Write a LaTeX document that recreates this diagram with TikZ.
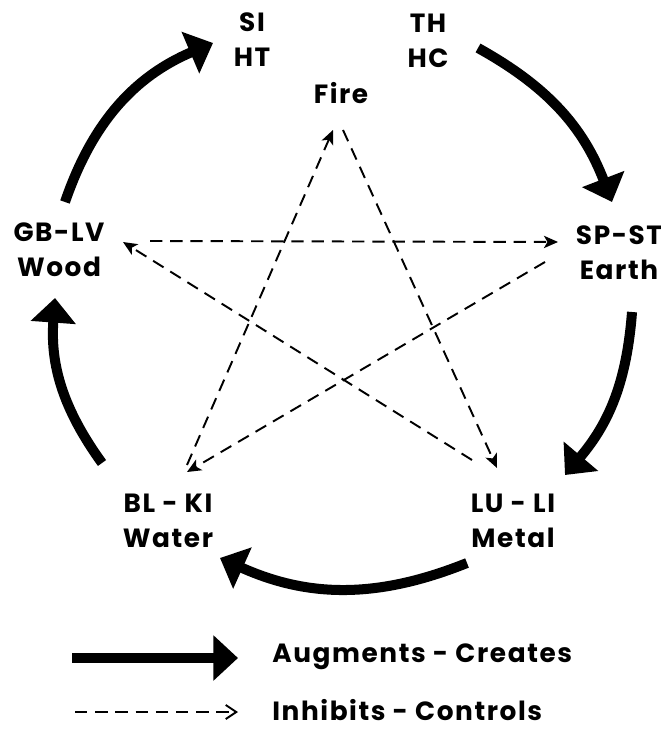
\documentclass[tikz,border=0pt]{standalone}
\usepackage{fontspec}
\setmainfont{Poppins}[LetterSpace=6]
\usetikzlibrary{arrows.meta,positioning}

\begin{document}
\begin{tikzpicture}[
    x=0.02cm, y=-0.02cm,
    every node/.style={font=\fontsize{15}{20}\selectfont\bfseries},
    element/.style={
        align=center,
        anchor=center,
        inner sep=0pt,
    },
    legtext/.style={
        anchor=west,
        inner sep=0pt,
    },
    augments/.style={
        line width=5.7pt,
        -{Triangle[width=25pt,length=14pt]},
    },
    inhibits/.style={
        line width=1.1pt,
        dash pattern=on 7pt off 4.5pt,
        -{Stealth[length=8pt,width=7pt,inset=2pt]},
    },
]

% Page frame
\useasboundingbox (0,0) rectangle (661,732);

% --- Elements (organ pairs) ---
\node[element] (fireA) at (252,40) {SI\\HT};
\node[element] (fireB) at (428,41) {TH\\HC};
\node[element] (fire)  at (341,93) {Fire};
\node[element] (wood)  at (59,250) {GB-LV\\Wood};
\node[element] (earth) at (619,253) {SP-ST\\Earth};
\node[element] (water) at (168,521) {BL - KI\\Water};
\node[element] (metal) at (513,521) {LU - LI\\Metal};

% --- End points of the cycles ---
\coordinate (wood-up)    at (65,202);
\coordinate (fireA-in)   at (213,43);
\coordinate (fireB-out)  at (478,48);
\coordinate (earth-in)   at (612,202);
\coordinate (earth-dn)   at (632,312);
\coordinate (metal-in)   at (565,475);
\coordinate (metal-dn)   at (467,563);
\coordinate (water-in)   at (220,558);
\coordinate (water-up)   at (102,463);
\coordinate (wood-in)    at (55,298);

\coordinate (wood-e)     at (150,241);
\coordinate (earth-w)    at (558,242);
\coordinate (earth-sw)   at (545,262);
\coordinate (water-ne)   at (187,472);
\coordinate (water-n)    at (187,465);
\coordinate (fire-sw)    at (333,130);
\coordinate (fire-se)    at (343,130);
\coordinate (metal-n)    at (497,468);
\coordinate (metal-nw)   at (472,460);
\coordinate (wood-se)    at (123,242);

% --- Augments - Creates (outer cycle) ---
\draw[augments] (wood-up) to[bend left=24] (fireA-in);
\draw[augments] (fireB-out) to[bend left=20] (earth-in);
\draw[augments] (earth-dn) to[bend left=18] (metal-in);
\draw[augments] (metal-dn) to[bend left=23] (water-in);
\draw[augments] (water-up) to[bend left=20] (wood-in);

% --- Inhibits - Controls (star) ---
\draw[inhibits] (wood-e) -- (earth-w);
\draw[inhibits] (earth-sw) -- (water-ne);
\draw[inhibits] (water-n) -- (fire-sw);
\draw[inhibits] (fire-se) -- (metal-n);
\draw[inhibits] (metal-nw) -- (wood-se);

% --- Legend ---
\coordinate (legA-l) at (72,658);
\coordinate (legA-r) at (238,658);
\coordinate (legB-l) at (75,712);
\coordinate (legB-r) at (238,712);
\draw[augments] (legA-l) -- (legA-r);
\draw[inhibits, -{Straight Barb[length=6pt,width=8pt]}] (legB-l) -- (legB-r);
\node[legtext] (legA) at (272,657) {Augments - Creates};
\node[legtext] (legB) at (272,710) {Inhibits - Controls};

\end{tikzpicture}
\end{document}
